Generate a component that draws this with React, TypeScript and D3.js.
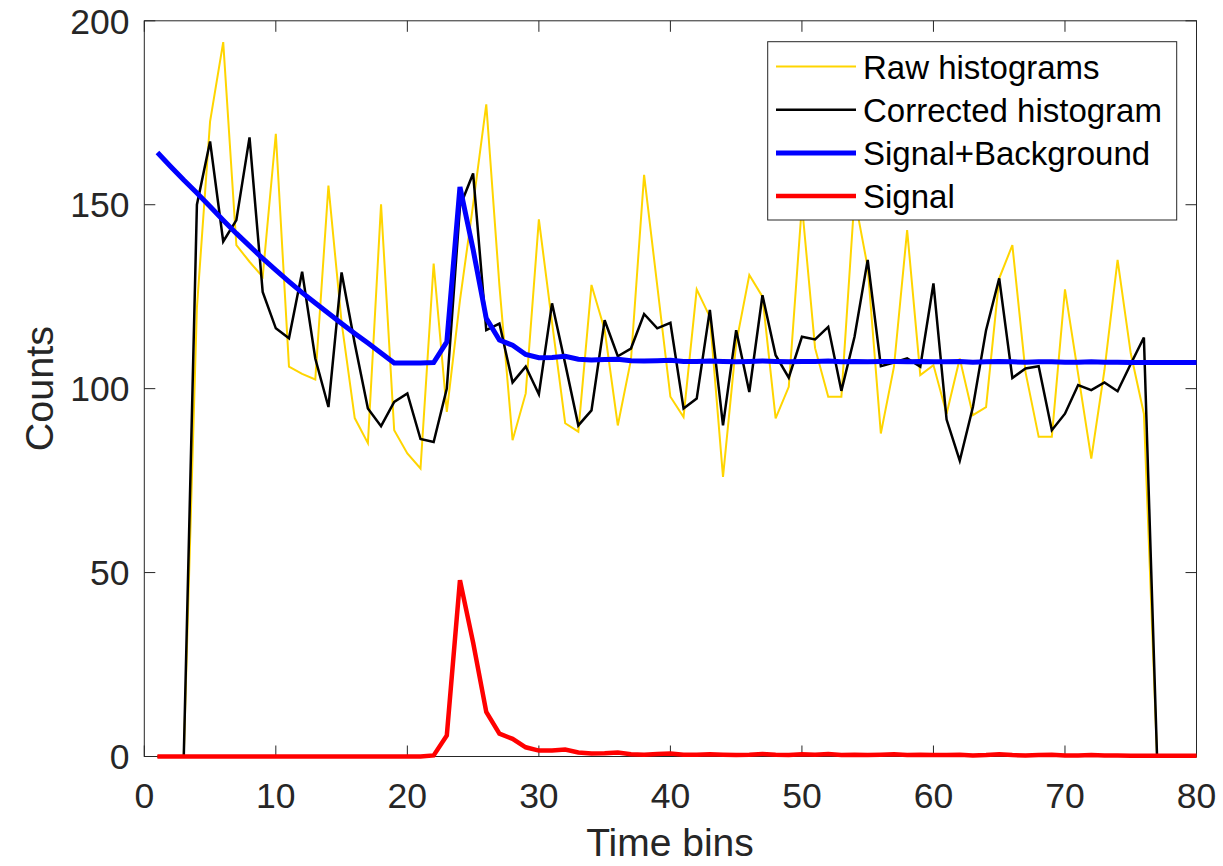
import React, { useEffect } from "react";
import * as d3 from "d3";

const bins: number[] = d3.range(1, 81);

const rawHistograms: number[] = [
  0, 0, 0, 122, 172.6, 194.2, 139, 134.5, 130.4, 169.3,
  106, 104, 102.5, 155.2, 118, 92, 85.2, 150.1, 88.7, 82.4,
  78.3, 134, 93.7, 124, 150, 177.3, 128, 86, 98.7, 146,
  118, 90.6, 88.3, 128.2, 116, 90, 107.8, 158.1, 128, 97.8,
  92.3, 127, 119.5, 76, 112.3, 130.9, 125, 91.9, 100.5, 150,
  111, 97.8, 97.8, 152, 133, 87.8, 106, 143.1, 103.7, 106.4,
  93.2, 108.2, 92.8, 95, 130, 139, 104.5, 86.9, 86.9, 127,
  104, 81, 105, 135, 109.6, 93.2, 0, 0, 0, 0,
];

const correctedHistogram: number[] = [
  0, 0, 0, 150, 167.2, 140, 145.8, 168.3, 126.3, 116.4,
  113.7, 131.8, 108.2, 95, 131.6, 112.3, 94.6, 89.8, 96.4, 98.7,
  86.3, 85.5, 100, 149.5, 158.5, 115.9, 117.7, 101.7, 106, 98.5,
  123.2, 106.8, 90, 94.1, 118.6, 108.8, 110.9, 120.3, 116.4, 117.9,
  94.6, 97.3, 121.4, 90, 115.9, 99.1, 125.4, 109.1, 103, 114.1,
  113.4, 116.8, 99.4, 114.1, 135, 106.1, 107.1, 108.2, 106, 128.6,
  91.6, 80.4, 95, 115.9, 130, 102.9, 105.5, 106.1, 88.7, 93.2,
  101, 99.6, 101.7, 99.3, 106.7, 113.9, 0, 0, 0, 0,
];

const signal: number[] = [
  0, 0, 0, 0, 0, 0, 0, 0, 0, 0,
  0, 0, 0, 0, 0, 0, 0, 0, 0, 0,
  0, 0.3, 5.7, 47.9, 31, 12.1, 6.2, 4.8, 2.5, 1.6,
  1.6, 1.9, 1.1, 0.8, 0.9, 1.1, 0.6, 0.5, 0.7, 0.8,
  0.5, 0.5, 0.6, 0.5, 0.4, 0.5, 0.7, 0.5, 0.4, 0.6,
  0.5, 0.7, 0.4, 0.5, 0.4, 0.5, 0.6, 0.4, 0.5, 0.4,
  0.4, 0.5, 0.3, 0.4, 0.6, 0.4, 0.3, 0.4, 0.5, 0.3,
  0.3, 0.4, 0.3, 0.3, 0.2, 0.2, 0.2, 0.2, 0.2, 0.2,
];

const signalBackground: number[] = [
  164.2, 160.4, 156.7, 153.2, 149.5, 145.8, 142.2, 138.8, 135.4, 132.2,
  129.1, 126.1, 123.3, 120.5, 117.7, 115.0, 112.4, 109.7, 107.0, 107.0,
  107.0, 107.1, 112.7, 154.8, 137.8, 119.1, 113.2, 111.8, 109.3, 108.4,
  108.5, 108.8, 108.0, 107.8, 107.9, 108.0, 107.6, 107.5, 107.6, 107.7,
  107.4, 107.4, 107.5, 107.4, 107.3, 107.4, 107.5, 107.4, 107.3, 107.4,
  107.4, 107.5, 107.3, 107.4, 107.3, 107.4, 107.4, 107.3, 107.4, 107.3,
  107.3, 107.4, 107.2, 107.3, 107.4, 107.3, 107.2, 107.3, 107.3, 107.2,
  107.2, 107.3, 107.2, 107.2, 107.1, 107.1, 107.1, 107.1, 107.1, 107.1,
];

const xTicks: number[] = [0, 10, 20, 30, 40, 50, 60, 70, 80];
const yTicks: number[] = [0, 50, 100, 150, 200];

const seriesNames: string[] = [
  "Raw histograms",
  "Corrected histogram",
  "Signal+Background",
  "Signal",
];
const seriesColors: string[] = ["#FFD500", "#000000", "#0000FF", "#FF0000"];
const seriesWidths: number[] = [2, 2.5, 5, 4.5];

const W = 1223;
const H = 866;
const left = 144.3;
const right = 1196.5;
const top = 20.8;
const bottom = 756.5;
const FONT = "'Liberation Sans', Arial, Helvetica, sans-serif";
const AXIS_COLOR = "#262626";

export default function App() {
  useEffect(() => {
    document.body.style.margin = "0";
  }, []);

  const x = d3.scaleLinear().domain([0, 80]).range([left, right]);
  const y = d3.scaleLinear().domain([0, 200]).range([bottom, top]);

  const allSeries: number[][] = [
    rawHistograms,
    correctedHistogram,
    signalBackground,
    signal,
  ];

  const line = d3
    .line<[number, number]>()
    .x((d) => x(d[0]))
    .y((d) => y(d[1]));

  const tickLen = 11;

  const legendX0 = 767.7;
  const legendY0 = 41.7;
  const legendX1 = 1176.7;
  const legendY1 = 220;
  const rowH = 43.2;
  const firstRow = 66.5;

  return (
    <svg
      width={W}
      height={H}
      style={{ position: "absolute", left: 0, top: 0, background: "#fff" }}
      fontFamily={FONT}
    >
      <rect x={0} y={0} width={W} height={H} fill="#fff" />
      <rect
        x={left}
        y={top}
        width={right - left}
        height={bottom - top}
        fill="#fff"
        stroke={AXIS_COLOR}
        strokeWidth={1}
      />
      {xTicks.map((t) => (
        <g key={"xt" + t}>
          <line x1={x(t)} x2={x(t)} y1={bottom} y2={bottom - tickLen} stroke={AXIS_COLOR} strokeWidth={1} />
          <line x1={x(t)} x2={x(t)} y1={top} y2={top + tickLen} stroke={AXIS_COLOR} strokeWidth={1} />
          <text x={x(t)} y={808} textAnchor="middle" fontSize={35.5} fill={AXIS_COLOR}>
            {t}
          </text>
        </g>
      ))}
      {yTicks.map((t) => (
        <g key={"yt" + t}>
          <line x1={left} x2={left + tickLen} y1={y(t)} y2={y(t)} stroke={AXIS_COLOR} strokeWidth={1} />
          <line x1={right} x2={right - tickLen} y1={y(t)} y2={y(t)} stroke={AXIS_COLOR} strokeWidth={1} />
          <text x={129.5} y={y(t) + 12.7} textAnchor="end" fontSize={35.5} fill={AXIS_COLOR}>
            {t}
          </text>
        </g>
      ))}
      {allSeries.map((s, i) => (
        <path
          key={"s" + i}
          d={line(s.map((v, j) => [bins[j], v] as [number, number])) || ""}
          fill="none"
          stroke={seriesColors[i]}
          strokeWidth={seriesWidths[i]}
          strokeLinejoin="miter"
          strokeMiterlimit={4}
        />
      ))}
      <text x={670} y={856} textAnchor="middle" fontSize={39} fill={AXIS_COLOR}>
        Time bins
      </text>
      <text
        transform={`translate(53, ${(top + bottom) / 2}) rotate(-90)`}
        textAnchor="middle"
        fontSize={39.5}
        fill={AXIS_COLOR}
      >
        Counts
      </text>
      <rect
        x={legendX0}
        y={legendY0}
        width={legendX1 - legendX0}
        height={legendY1 - legendY0}
        fill="#fff"
        stroke={AXIS_COLOR}
        strokeWidth={1}
      />
      {seriesNames.map((name, i) => {
        const ry = firstRow + i * rowH;
        return (
          <g key={"lg" + i}>
            <line x1={776} x2={856} y1={ry} y2={ry} stroke={seriesColors[i]} strokeWidth={seriesWidths[i]} />
            <text x={863} y={ry + 12} fontSize={33} fill="#000">
              {name}
            </text>
          </g>
        );
      })}
    </svg>
  );
}
